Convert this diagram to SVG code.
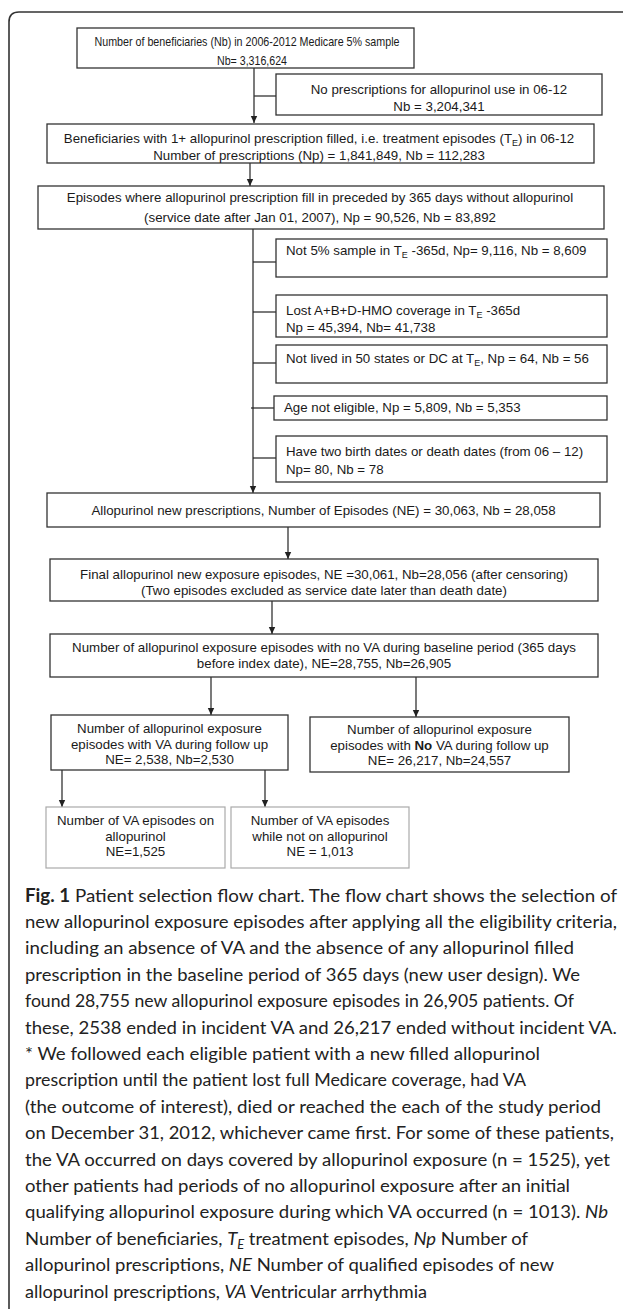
<svg xmlns="http://www.w3.org/2000/svg" width="625" height="1309" viewBox="0 0 625 1309">
<style>
.box{fill:#fff;stroke:#333;stroke-width:1.3}
.gbox{fill:#fff;stroke:#aaa;stroke-width:1.2}
.t{font-family:"Liberation Sans",Arial,sans-serif;font-size:13.3px;fill:#1a1a1a}
.c{text-anchor:middle}
.sub{font-size:9px}
.ln{stroke:#222;stroke-width:1.2;fill:none}
.cap{font-family:Lato,"Open Sans",sans-serif;font-size:18px;fill:#222}
.it{font-style:italic}
</style>
<defs>
<marker id="ah" markerWidth="8" markerHeight="8" refX="7" refY="4" orient="auto" markerUnits="userSpaceOnUse">
<path d="M0,0.8 L7,4 L0,7.2 Z" fill="#222"/>
</marker>
</defs>
<rect width="625" height="1309" fill="#fff"/>
<path d="M9,1309 V22 Q9,12 19,12 H623" fill="none" stroke="#333" stroke-width="1.6"/>

<g id="connectors">
<path class="ln" d="M254,68 V123" marker-end="url(#ah)"/>
<path class="ln" d="M254,96 H276"/>
<path class="ln" d="M250,163 V186" marker-end="url(#ah)"/>
<path class="ln" d="M253,229 V493" marker-end="url(#ah)"/>
<path class="ln" d="M253,262 H276"/>
<path class="ln" d="M253,312 H276"/>
<path class="ln" d="M253,363 H276"/>
<path class="ln" d="M251,408 H274"/>
<path class="ln" d="M253,458 H276"/>
<path class="ln" d="M288,527 V559" marker-end="url(#ah)"/>
<path class="ln" d="M272,601 V634" marker-end="url(#ah)"/>
<path class="ln" d="M211,677 V715" marker-end="url(#ah)"/>
<path class="ln" d="M416,677 V717" marker-end="url(#ah)"/>
<path class="ln" d="M62,770 V807" marker-end="url(#ah)"/>
<path class="ln" d="M265,770 V807" marker-end="url(#ah)"/>
</g>

<g id="n1"><rect class="box" x="77" y="28" width="337" height="40"/>
<text class="t c" x="247" y="45.5" font-size="13" textLength="305" lengthAdjust="spacingAndGlyphs">Number of beneficiaries (Nb) in 2006-2012 Medicare 5% sample</text>
<text class="t c" x="252" y="64.5" font-size="13" textLength="70" lengthAdjust="spacingAndGlyphs">Nb= 3,316,624</text></g>

<g id="n2"><rect class="box" x="276" y="74" width="326" height="41"/>
<text class="t c" x="439" y="93.5">No prescriptions for allopurinol use in 06-12</text>
<text class="t c" x="439" y="110.5">Nb = 3,204,341</text></g>

<g id="n3"><rect class="box" x="47" y="124" width="547" height="39"/>
<text class="t c" x="319" y="142.5">Beneficiaries with 1+ allopurinol prescription filled, i.e. treatment episodes (T<tspan class="sub" dy="3">E</tspan><tspan dy="-3">) in 06-12</tspan></text>
<text class="t c" x="319" y="159.5">Number of prescriptions (Np) = 1,841,849, Nb = 112,283</text></g>

<g id="n4"><rect class="box" x="38" y="186" width="566" height="43"/>
<text class="t c" x="320" y="201.5">Episodes where allopurinol prescription fill in preceded by 365 days without allopurinol</text>
<text class="t c" x="320" y="221.5">(service date after Jan 01, 2007), Np = 90,526, Nb = 83,892</text></g>

<g id="n5"><rect class="box" x="276" y="239" width="331" height="38"/>
<text class="t" x="286" y="254.5">Not 5% sample in T<tspan class="sub" dy="3">E</tspan><tspan dy="-3"> -365d, Np= 9,116, Nb = 8,609</tspan></text></g>

<g id="n6"><rect class="box" x="276" y="295" width="331" height="42"/>
<text class="t" x="286" y="314.5">Lost A+B+D-HMO coverage in T<tspan class="sub" dy="3">E</tspan><tspan dy="-3"> -365d</tspan></text>
<text class="t" x="286" y="331.5">Np = 45,394, Nb= 41,738</text></g>

<g id="n7"><rect class="box" x="276" y="345" width="331" height="38"/>
<text class="t" x="286" y="362.5">Not lived in 50 states or DC at T<tspan class="sub" dy="3">E</tspan><tspan dy="-3">, Np = 64, Nb = 56</tspan></text></g>

<g id="n8"><rect class="box" x="274" y="396" width="333" height="24"/>
<text class="t" x="284" y="411.5">Age not eligible, Np = 5,809, Nb = 5,353</text></g>

<g id="n9"><rect class="box" x="276" y="436" width="331" height="46"/>
<text class="t" x="286" y="455.5">Have two birth dates or death dates (from 06 – 12)</text>
<text class="t" x="286" y="473.5">Np= 80, Nb = 78</text></g>

<g id="n10"><rect class="box" x="47" y="493" width="553" height="34"/>
<text class="t c" x="323.5" y="514.5">Allopurinol new prescriptions, Number of Episodes (NE) = 30,063, Nb = 28,058</text></g>

<g id="n11"><rect class="box" x="50" y="559" width="548" height="42"/>
<text class="t c" x="324" y="578.5">Final allopurinol new exposure episodes, NE =30,061, Nb=28,056 (after censoring)</text>
<text class="t c" x="324" y="594.5">(Two episodes excluded as service date later than death date)</text></g>

<g id="n12"><rect class="box" x="50" y="634" width="548" height="43"/>
<text class="t c" x="324" y="651.5">Number of allopurinol exposure episodes with no VA during baseline period (365 days</text>
<text class="t c" x="324" y="667.5">before index date), NE=28,755, Nb=26,905</text></g>

<g id="n13"><rect class="box" x="51" y="715" width="237" height="55"/>
<text class="t c" x="169.5" y="732.5">Number of allopurinol exposure</text>
<text class="t c" x="169.5" y="748.5">episodes with VA during follow up</text>
<text class="t c" x="169.5" y="763.5">NE= 2,538, Nb=2,530</text></g>

<g id="n14"><rect class="box" x="310" y="717" width="259" height="55"/>
<text class="t c" x="439.5" y="733.5">Number of allopurinol exposure</text>
<text class="t c" x="439.5" y="749.5">episodes with <tspan font-weight="bold">No</tspan> VA during follow up</text>
<text class="t c" x="439.5" y="764.5">NE= 26,217, Nb=24,557</text></g>

<g id="n15"><rect class="gbox" x="46" y="807" width="179" height="61"/>
<text class="t c" x="135.5" y="824.5">Number of VA episodes on</text>
<text class="t c" x="135.5" y="840.5">allopurinol</text>
<text class="t c" x="135.5" y="855.5">NE=1,525</text></g>

<g id="n16"><rect class="gbox" x="231" y="807" width="178" height="61"/>
<text class="t c" x="320" y="824.5">Number of VA episodes</text>
<text class="t c" x="320" y="840.5">while not on allopurinol</text>
<text class="t c" x="320" y="855.5">NE = 1,013</text></g>

<g id="caption">
<text class="cap" x="25" y="901.5" textLength="592" lengthAdjust="spacingAndGlyphs"><tspan font-weight="bold">Fig. 1</tspan> Patient selection flow chart. The flow chart shows the selection of</text>
<text class="cap" x="25" y="927.9" textLength="592" lengthAdjust="spacingAndGlyphs">new allopurinol exposure episodes after applying all the eligibility criteria,</text>
<text class="cap" x="25" y="954.3" textLength="549" lengthAdjust="spacingAndGlyphs">including an absence of VA and the absence of any allopurinol filled</text>
<text class="cap" x="25" y="980.7" textLength="555" lengthAdjust="spacingAndGlyphs">prescription in the baseline period of 365 days (new user design). We</text>
<text class="cap" x="25" y="1007.1" textLength="549" lengthAdjust="spacingAndGlyphs">found 28,755 new allopurinol exposure episodes in 26,905 patients. Of</text>
<text class="cap" x="25" y="1033.5" textLength="592" lengthAdjust="spacingAndGlyphs">these, 2538 ended in incident VA and 26,217 ended without incident VA.</text>
<text class="cap" x="25" y="1059.9" textLength="515" lengthAdjust="spacingAndGlyphs">* We followed each eligible patient with a new filled allopurinol</text>
<text class="cap" x="25" y="1086.3" textLength="501" lengthAdjust="spacingAndGlyphs">prescription until the patient lost full Medicare coverage, had VA</text>
<text class="cap" x="25" y="1112.7" textLength="576" lengthAdjust="spacingAndGlyphs">(the outcome of interest), died or reached the each of the study period</text>
<text class="cap" x="25" y="1139.1" textLength="589" lengthAdjust="spacingAndGlyphs">on December 31, 2012, whichever came first. For some of these patients,</text>
<text class="cap" x="25" y="1165.5" textLength="585" lengthAdjust="spacingAndGlyphs">the VA occurred on days covered by allopurinol exposure (n = 1525), yet</text>
<text class="cap" x="25" y="1191.9" textLength="545" lengthAdjust="spacingAndGlyphs">other patients had periods of no allopurinol exposure after an initial</text>
<text class="cap" x="25" y="1218.3" textLength="583" lengthAdjust="spacingAndGlyphs">qualifying allopurinol exposure during which VA occurred (n = 1013). <tspan class="it">Nb</tspan></text>
<text class="cap" x="25" y="1244.7" textLength="503" lengthAdjust="spacingAndGlyphs">Number of beneficiaries, <tspan class="it">T</tspan><tspan class="it" font-size="12.5" dy="4">E</tspan><tspan dy="-4"> treatment episodes, </tspan><tspan class="it">Np</tspan> Number of</text>
<text class="cap" x="25" y="1271.1" textLength="529" lengthAdjust="spacingAndGlyphs">allopurinol prescriptions, <tspan class="it">NE</tspan> Number of qualified episodes of new</text>
<text class="cap" x="25" y="1297.5" textLength="402" lengthAdjust="spacingAndGlyphs">allopurinol prescriptions, <tspan class="it">VA</tspan> Ventricular arrhythmia</text>
</g>
</svg>
